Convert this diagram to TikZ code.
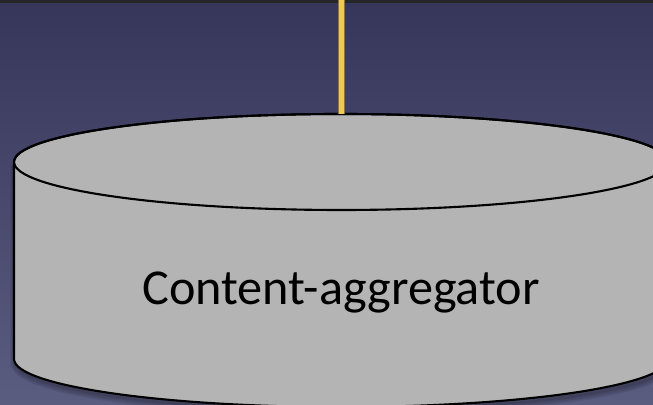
\documentclass[tikz,border=0pt]{standalone}
\usepackage{fontspec}
\setmainfont{Carlito}
\usepackage{xcolor}
\usepackage{tikz}
\usetikzlibrary{calc,positioning}
\definecolor{slatetop}{HTML}{36365A}
\definecolor{slatebottom}{HTML}{5A5C80}
\definecolor{storegray}{HTML}{B4B4B4}
\definecolor{feedyellow}{HTML}{F0C852}
\definecolor{feededge}{HTML}{8A7440}

\begin{document}
\begin{tikzpicture}[x=0.02cm,y=0.02cm]
  \def\cx{341}
  \def\rx{327}
  \def\ry{48}
  \def\ytop{243}
  \def\ybot{46}
  \useasboundingbox (0,0) rectangle (653,405);
  \clip (0,0) rectangle (653,405);
  \shade[top color=slatetop,bottom color=slatebottom] (0,0) rectangle (653,405);
  \fill[black!85] (0,402) rectangle (653,405);
  \coordinate (feed) at (\cx,405);
  \coordinate (storetop) at (\cx,{\ytop+\ry});
  % soft shadow round the store
  \foreach \w in {2,4,...,12}
    \draw[black,opacity=0.05,line width=\w*0.02cm]
      (\cx-\rx+2,\ytop-3) -- (\cx-\rx+2,\ybot-3)
      arc[start angle=180,end angle=360,x radius=\rx,y radius=\ry];
  % store body
  \filldraw[fill=storegray,draw=black,line width=1.2pt]
    (\cx-\rx,\ytop) -- (\cx-\rx,\ybot)
    arc[start angle=180,end angle=360,x radius=\rx,y radius=\ry]
    -- (\cx+\rx,\ytop)
    arc[start angle=0,end angle=180,x radius=\rx,y radius=\ry] -- cycle;
  \draw[black,line width=1.2pt] (\cx,\ytop) ellipse[x radius=\rx,y radius=\ry];
  \node[anchor=base,font=\fontsize{28.6}{34}\selectfont] (store) at (\cx,100) {Content-aggregator};
  % feed line into the store
  \draw[feededge,line width=7*0.02cm] (feed) -- (storetop);
  \draw[feedyellow,line width=5*0.02cm] (feed) -- (storetop);
\end{tikzpicture}
\end{document}
